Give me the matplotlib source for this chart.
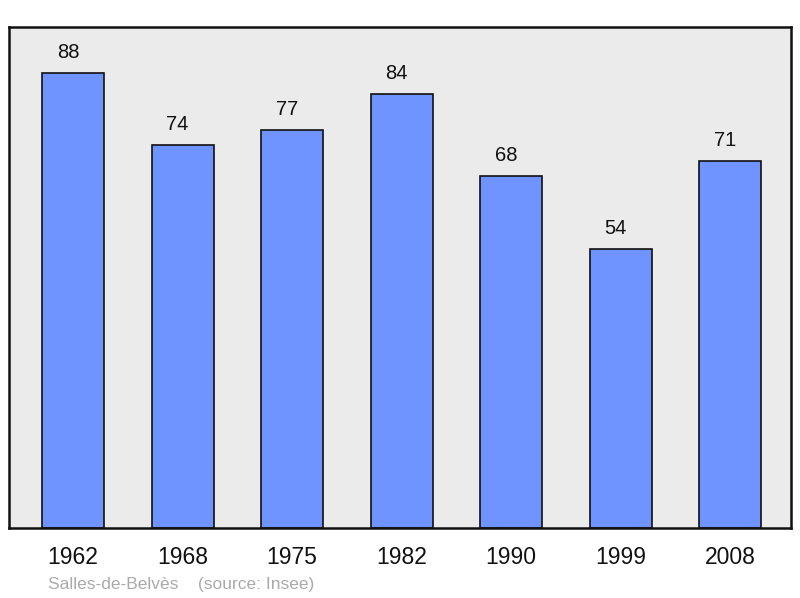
import matplotlib
matplotlib.use("Agg")
import matplotlib.pyplot as plt

years = ["1962", "1968", "1975", "1982", "1990", "1999", "2008"]
population = [88, 74, 77, 84, 68, 54, 71]
commune = "Salles-de-Belvès"
source = "(source: Insee)"

plt.rcParams["font.family"] = ["Liberation Sans", "DejaVu Sans"]

fig = plt.figure(figsize=(8, 5.98), dpi=100)
ax = fig.add_axes([9/800, 70/598, 782/800, 501/598])
ax.set_facecolor("#ebebeb")
x = list(range(len(years)))
bars = ax.bar(x, population, width=0.566, color="#7094ff", edgecolor="#111111", linewidth=1.2, zorder=2)
for xi, v in zip(x, population):
    ax.annotate(str(v), (xi, v), xytext=(-3.6, 8), textcoords="offset points",
                ha="center", va="bottom", fontsize=14.5, color="#111111")
ax.set_xlim(-0.585, 6.555)
ax.set_ylim(0, 96.9)
ax.set_yticks([])
ax.set_xticks(x)
ax.set_xticklabels(years, fontsize=16.5, color="#111111")
ax.tick_params(axis="x", length=0, pad=13)
for s in ax.spines.values():
    s.set_linewidth(1.8)
    s.set_color("#111111")
fig.text(48/800, 1 - 584/598, commune + "    " + source, fontsize=12.5, color="#aaaaaa", va="center", ha="left")
fig.savefig("out.png", dpi=100)
